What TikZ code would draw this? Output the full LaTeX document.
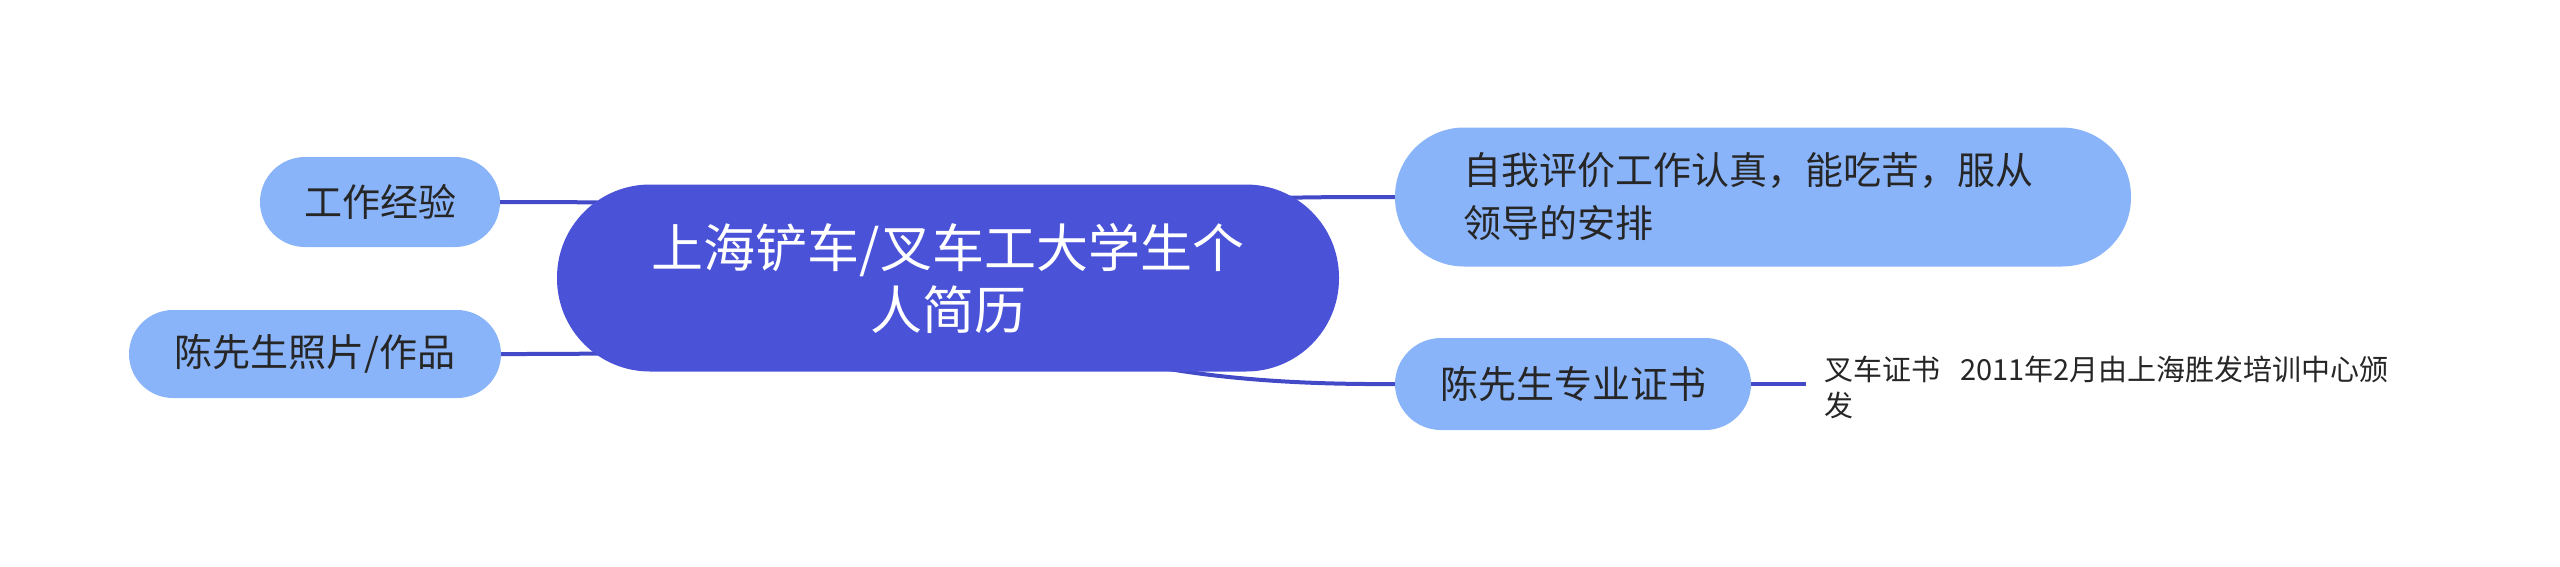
\documentclass[tikz,border=0pt]{standalone}
\usepackage{fontspec}
\setmainfont{Noto Sans CJK SC}
\usetikzlibrary{backgrounds}
\definecolor{centralc}{RGB}{74,82,216}
\definecolor{branchc}{RGB}{138,180,250}
\definecolor{edgec}{RGB}{66,74,200}
\definecolor{txtc}{RGB}{38,38,38}
\begin{document}
\begin{tikzpicture}[x=1pt,y=-1pt,
  centralbox/.style={fill=centralc, text=white, rounded corners=93pt, minimum width=782pt, minimum height=187pt, font=\fontsize{52pt}{62pt}\selectfont, align=center, inner sep=0pt},
  branchbox/.style={fill=branchc, text=txtc, font=\fontsize{38pt}{53pt}\selectfont, inner sep=0pt},
  leafbox/.style={text=txtc, font=\fontsize{29pt}{36pt}\selectfont, align=left, inner xsep=18pt, inner ysep=0pt, anchor=west},
  link/.style={draw=edgec, line width=4pt}]
\useasboundingbox (0,0) rectangle (2560,566);
\node[centralbox] (c) at (948,278) {上海铲车/叉车工大学生个\\人简历};
\node[branchbox, minimum width=240pt, minimum height=90pt, rounded corners=45pt] (w) at (380,202) {工作经验};
\node[branchbox, minimum width=372pt, minimum height=88pt, rounded corners=44pt] (p) at (315,354) {陈先生照片/作品};
\node[branchbox, minimum width=736pt, minimum height=139pt, rounded corners=69pt, text width=600pt, align=left] (s) at (1763,197) {自我评价工作认真，能吃苦，服从\\领导的安排};
\node[branchbox, minimum width=356pt, minimum height=92pt, rounded corners=46pt] (z) at (1573,384) {陈先生专业证书};
\node[leafbox] (l) at (1806,387) {叉车证书\hspace{0.7em}2011年2月由上海胜发培训中心颁\\发};
\begin{pgfonlayer}{background}
\draw[link] (c.center) .. controls (820,202) and (680,202) .. (w.east);
\draw[link] (c.center) .. controls (820,354) and (680,354) .. (p.east);
\draw[link] (c.center) .. controls (1080,197) and (1220,197) .. (s.west);
\draw[link] (c.center) .. controls (1050,372) and (1250,385) .. (z.west);
\draw[link] (z.east) -- (z.east -| l.west);
\end{pgfonlayer}
\end{tikzpicture}
\end{document}
